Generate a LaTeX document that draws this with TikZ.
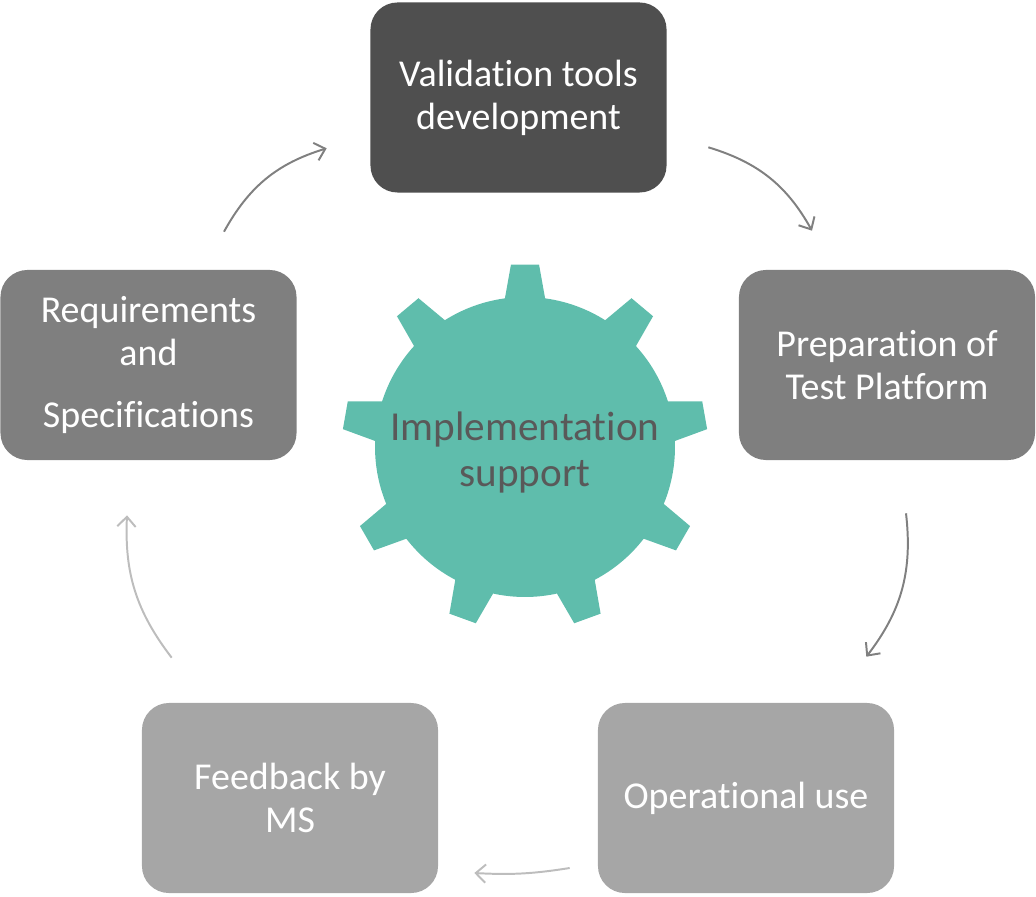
\documentclass[tikz,border=0pt]{standalone}
\usepackage{fontspec}
\setmainfont[Ligatures = NoCommon]{Carlito}
\usetikzlibrary{arrows.meta}

\definecolor{boxdark}{HTML}{4F4F4F}
\definecolor{boxmid}{HTML}{7F7F7F}
\definecolor{boxlight}{HTML}{A6A6A6}
\definecolor{gearfill}{HTML}{5FBDAC}
\definecolor{geartext}{HTML}{595959}
\definecolor{arrowdark}{HTML}{808080}
\definecolor{arrowlight}{HTML}{BDBDBD}

\tikzset{
    stagebox/.style = {rectangle, rounded corners = 0.675cm, minimum width = 7.4cm, minimum height = 4.75cm,
                       inner sep = 0pt, align = center, text = white, font = \fontsize{27}{30.5}\selectfont},
    cycarrow/.style = {line width = 1.4pt, -{Straight Barb[length = 7pt, width = 13pt]}},
}

\begin{document}
\begin{tikzpicture}[x = 0.025cm, y = 0.025cm]
                \useasboundingbox (0,0) rectangle (1036,896);

                \coordinate (hub) at (525,449);
                \fill [gearfill, shift = {(hub)}] (82.3:150)
                    \foreach \a in {90,130,...,410} {
                        -- (\a-7.7:150) -- (\a-4.4:183) -- (\a+4.4:183) -- (\a+7.7:150)
                        arc [start angle = \a+7.7, end angle = \a+32.3, radius = 150]
                    } -- cycle;
                \node (gear) [align = center, text = geartext, font = \fontsize{29.3}{33}\selectfont] at ([yshift = -4]hub) {Implementation\\support};

                \node (valid) [stagebox, fill = boxdark]  at (518.5,798.5) {Validation tools\\development};
                \node (prep)  [stagebox, fill = boxmid]   at (887,531)     {Preparation of\\Test Platform};
                \node (oper)  [stagebox, fill = boxlight] at (746,98)      {Operational use};
                \node (feed)  [stagebox, fill = boxlight] at (290,98)      {Feedback by\\MS};
                \node (req)   [stagebox, fill = boxmid]   at (148.5,531)   {Requirements\\and\\[0.47cm]Specifications};

                \draw [cycarrow, arrowdark]  ([shift = {(41.5,45.5)}]valid.south east) to [bend left = 22] ([shift = {(-75,39)}]prep.north);
                \draw [cycarrow, arrowdark]  ([shift = {(19,-53)}]prep.south)          to [bend left = 22] ([shift = {(-28,46)}]oper.north east);
                \draw [cycarrow, arrowlight] ([shift = {(-28,-70)}]oper.west)          to [bend left = 6]  ([shift = {(36,-75)}]feed.east);
                \draw [cycarrow, arrowlight] ([shift = {(30,45)}]feed.north west)      to [bend left = 20] ([shift = {(-21.5,-55)}]req.south);
                \draw [cycarrow, arrowdark]  ([shift = {(75.5,38)}]req.north)          to [bend left = 22] ([shift = {(-43.5,44.5)}]valid.south west);
            \end{tikzpicture}
\end{document}
